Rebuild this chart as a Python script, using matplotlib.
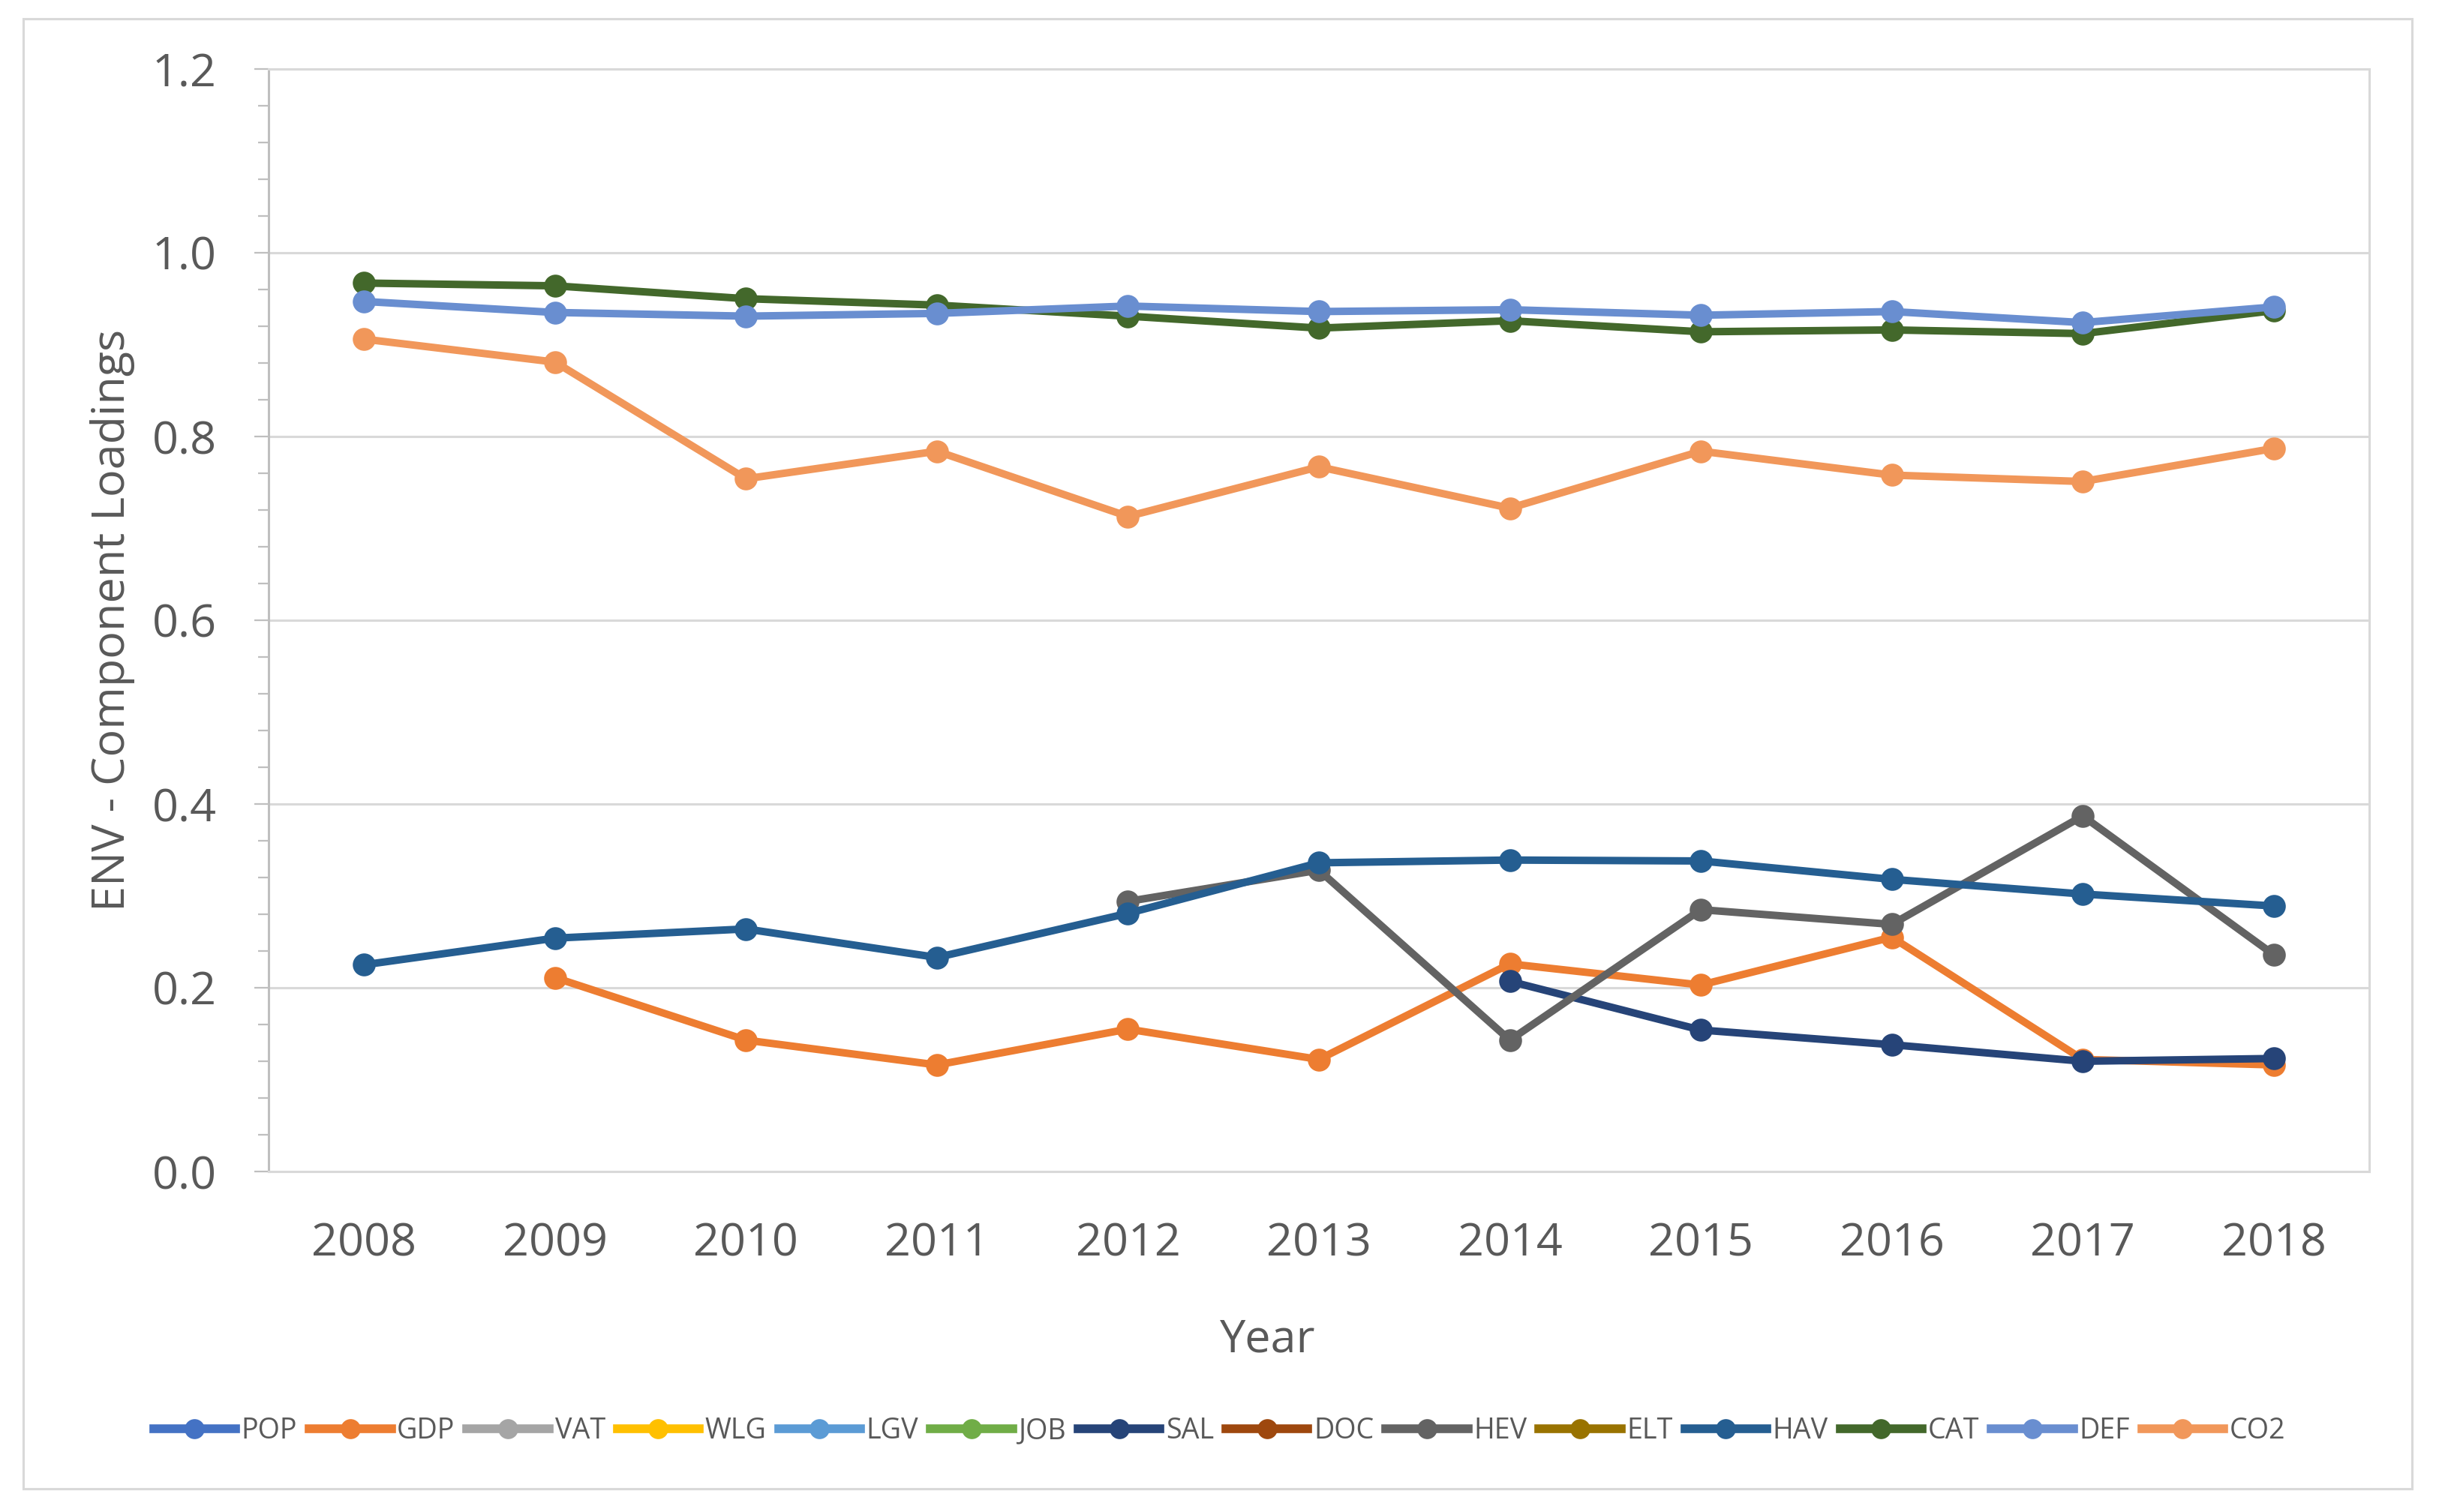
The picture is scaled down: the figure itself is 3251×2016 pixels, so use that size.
import numpy as np
import matplotlib
matplotlib.use("Agg")
import matplotlib.pyplot as plt
from matplotlib.ticker import MultipleLocator, FormatStrFormatter
from matplotlib.patches import Rectangle

#-------------------------------
#         data
#-------------------------------
years = [2008, 2009, 2010, 2011, 2012, 2013, 2014, 2015, 2016, 2017, 2018]
nan = np.nan

POP = [nan] * 11
GDP = [nan, 0.211, 0.143, 0.116, 0.155, 0.122, 0.226, 0.203, 0.255, 0.122, 0.116]
VAT = [nan] * 11
WLG = [nan] * 11
LGV = [nan] * 11
JOB = [nan] * 11
SAL = [nan, nan, nan, nan, nan, nan, 0.207, 0.154, 0.138, 0.120, 0.123]
DOC = [nan] * 11
HEV = [nan, nan, nan, nan, 0.294, 0.328, 0.143, 0.285, 0.269, 0.387, 0.236]
ELT = [nan] * 11
HAV = [0.225, 0.254, 0.264, 0.233, 0.281, 0.336, 0.339, 0.338, 0.318, 0.302, 0.289]
CAT = [0.967, 0.964, 0.950, 0.943, 0.931, 0.918, 0.926, 0.914, 0.916, 0.912, 0.937]
DEF = [0.947, 0.935, 0.931, 0.934, 0.942, 0.936, 0.938, 0.932, 0.936, 0.924, 0.941]
CO2 = [0.906, 0.881, 0.754, 0.784, 0.713, 0.767, 0.722, 0.784, 0.758, 0.751, 0.787]

names = ["POP", "GDP", "VAT", "WLG", "LGV", "JOB", "SAL", "DOC", "HEV", "ELT", "HAV", "CAT", "DEF", "CO2"]
series = [POP, GDP, VAT, WLG, LGV, JOB, SAL, DOC, HEV, ELT, HAV, CAT, DEF, CO2]
colors = ["#4472C4", "#ED7D31", "#A5A5A5", "#FFC000", "#5B9BD5", "#70AD47", "#264478",
          "#9E480E", "#636363", "#997300", "#255E91", "#43682B", "#698ED0", "#F1975A"]

txt = "#595959"
plt.rcParams['font.family'] = ['Open Sans', 'DejaVu Sans']

#-------------------------------
#         figure
#-------------------------------
fig = plt.figure(figsize=(16.255, 10.08), dpi=200)
ax = fig.add_axes([358/3251, 1-1562/2016, (3158-358)/3251, (1562-92)/2016])

for name, vals, c in zip(names, series, colors):
    ax.plot(years, vals, '-o', color=c, lw=3.6, ms=10, label=name)

ax.set_xlim(2007.5, 2018.5)
ax.set_ylim(0, 1.2)
ax.set_xticks(years)
ax.yaxis.set_major_locator(MultipleLocator(0.2))
ax.yaxis.set_minor_locator(MultipleLocator(0.04))
ax.yaxis.set_major_formatter(FormatStrFormatter('%.1f'))
ax.grid(axis='y', which='major', color='#D9D9D9', lw=1.1)
ax.set_axisbelow(True)

ax.tick_params(axis='x', length=0, pad=24, labelsize=22, labelcolor=txt)
ax.tick_params(axis='y', which='major', length=7, width=0.8, color='#BFBFBF',
               pad=18, labelsize=22, labelcolor=txt)
ax.tick_params(axis='y', which='minor', length=5, width=0.8, color='#BFBFBF')

for s in ['top', 'right', 'bottom']:
    ax.spines[s].set_color('#D9D9D9')
    ax.spines[s].set_linewidth(1.1)
ax.spines['left'].set_color('#BFBFBF')
ax.spines['left'].set_linewidth(1.1)

ax.set_xlabel('Year', fontsize=22, color=txt)
ax.xaxis.set_label_coords(0.4757, -0.132)
ax.set_ylabel('ENV - Component Loadings', fontsize=22, color=txt, labelpad=8)

leg = fig.legend(loc='center', bbox_to_anchor=(0.5, 1-1908/2016), ncol=14, frameon=False,
                 fontsize=13.6, handlelength=2.9, handletextpad=0.2, columnspacing=0.42,
                 borderaxespad=0)
for t in leg.get_texts():
    t.set_color(txt)
for l in leg.get_lines():
    l.set_linewidth(4.2)
    l.set_markersize(8.6)

# chart area border
fig.patches.append(Rectangle((31/3251, 1-1985/2016), (3215-31)/3251, (1985-25)/2016,
                             transform=fig.transFigure, fill=False, edgecolor='#D9D9D9', lw=1.1))

plt.savefig("out.png", dpi=200)
